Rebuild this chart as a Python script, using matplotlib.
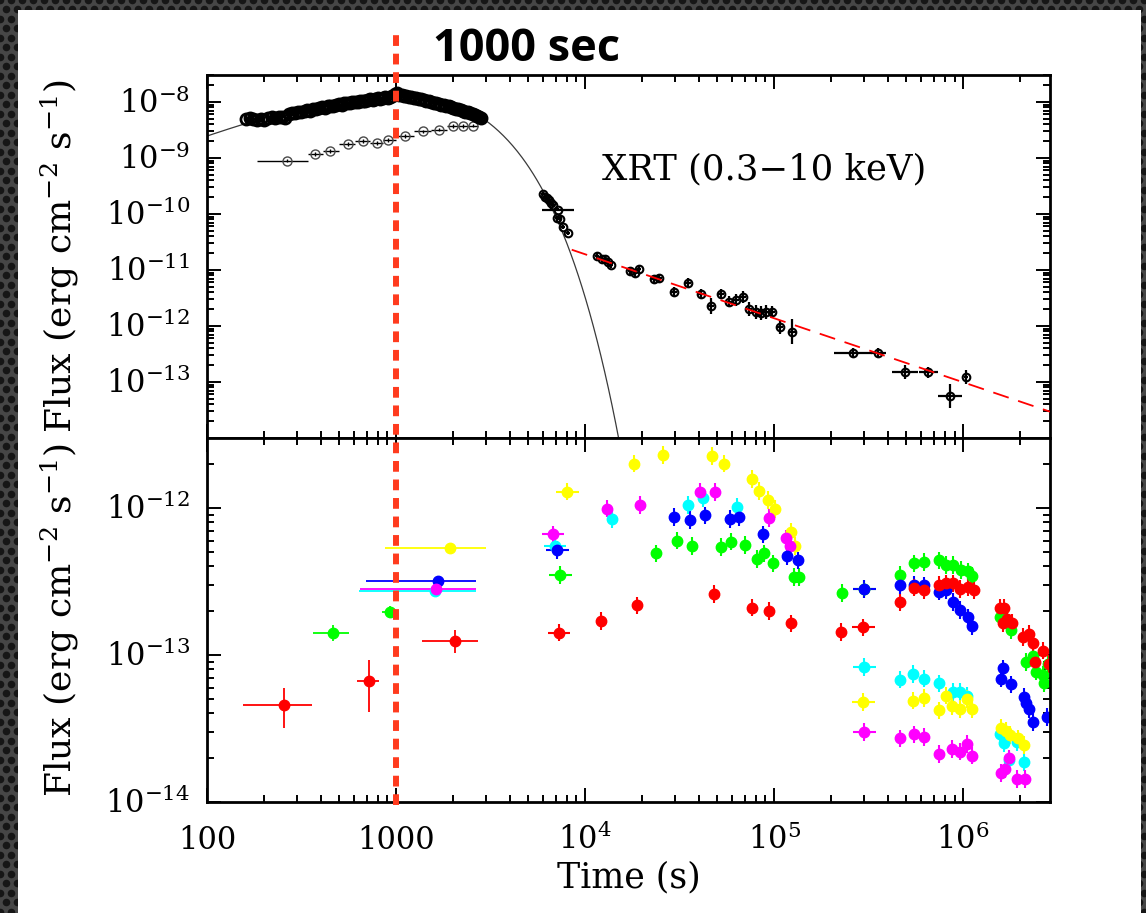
import numpy as np
import matplotlib
matplotlib.use("Agg")
import matplotlib.pyplot as plt
import matplotlib.transforms as mtransforms
from matplotlib.lines import Line2D
from matplotlib.patches import Rectangle
from matplotlib.ticker import FixedLocator, LogLocator, NullFormatter, FuncFormatter

plt.rcParams["font.family"] = ["DejaVu Serif"]
plt.rcParams["mathtext.fontset"] = "dejavuserif"

# ---------------- top panel data (XRT 0.3-10 keV) ----------------
# WT mode, dense
wt_t = [160, 168, 176, 184, 192, 200, 210, 220, 230, 240, 250, 260, 270, 280,
        292, 304, 316, 328, 340, 352, 365, 378, 392, 406, 420, 435, 450, 466,
        482, 498, 515, 532, 550, 568, 587, 606, 626, 646, 667, 688, 710, 732,
        755, 778, 802, 826, 851, 876, 902, 928, 955, 982, 1010, 1040, 1070,
        1100, 1135, 1170, 1205, 1240, 1280, 1320, 1360, 1400, 1445, 1490, 1535,
        1580, 1630, 1680, 1730, 1785, 1840, 1895, 1950, 2010, 2070, 2130, 2195,
        2260, 2330, 2400, 2470, 2540, 2610, 2680, 2750, 2820]
wt_f = [4.9e-9, 5.1e-9, 5.0e-9, 4.8e-9, 5.0e-9, 4.7e-9, 5.2e-9, 5.3e-9, 5.1e-9,
        5.4e-9, 5.3e-9, 5.1e-9, 6.2e-9, 6.4e-9, 6.3e-9, 6.6e-9, 6.5e-9, 6.9e-9,
        7.1e-9, 7.0e-9, 7.5e-9, 7.4e-9, 7.8e-9, 8.0e-9, 7.9e-9, 8.3e-9, 8.6e-9,
        8.5e-9, 8.9e-9, 9.1e-9, 9.0e-9, 9.4e-9, 9.6e-9, 9.5e-9, 9.9e-9, 1.01e-8,
        1.00e-8, 1.04e-8, 1.06e-8, 1.05e-8, 1.09e-8, 1.11e-8, 1.10e-8, 1.14e-8,
        1.16e-8, 1.15e-8, 1.19e-8, 1.21e-8, 1.20e-8, 1.25e-8, 1.30e-8, 1.38e-8,
        1.42e-8, 1.35e-8, 1.33e-8, 1.29e-8, 1.27e-8, 1.24e-8, 1.22e-8, 1.19e-8,
        1.17e-8, 1.13e-8, 1.11e-8, 1.08e-8, 1.06e-8, 1.02e-8, 1.00e-8, 9.7e-9,
        9.5e-9, 9.2e-9, 9.0e-9, 8.8e-9, 8.5e-9, 8.3e-9, 8.1e-9, 7.9e-9, 7.6e-9,
        7.4e-9, 7.2e-9, 7.0e-9, 6.7e-9, 6.5e-9, 6.3e-9, 6.0e-9, 5.8e-9, 5.6e-9,
        5.4e-9, 5.1e-9]

# PC mode, early sparse points
pc_t = [265, 373, 446, 557, 669, 793, 907, 1117, 1390, 1690, 2000, 2260, 2550]
pc_f = [8.9e-10, 1.18e-9, 1.33e-9, 1.78e-9, 2.0e-9, 1.85e-9, 2.1e-9, 2.46e-9,
        3.0e-9, 3.2e-9, 3.7e-9, 3.7e-9, 3.8e-9]
pc_tlo = [184, 342, 410, 500, 610, 730, 850, 1000, 1250, 1540, 1850, 2130, 2400]
pc_thi = [342, 410, 500, 610, 730, 850, 1000, 1250, 1540, 1850, 2130, 2400, 2700]

# late-time points
late_t = [6000, 6150, 6300, 6450, 6600, 6760, 7200, 7100, 7380, 7660, 8100,
          11560, 12300, 12770, 13200, 13700, 17300, 18400, 19300, 23200, 24600,
          29500, 35000, 41100, 46500, 52500, 57800, 63000, 68600, 73800, 80300,
          85300, 90700, 97700, 107000, 124000, 262000, 355000, 493000, 654000,
          851000, 1.04e6]
late_f = [2.3e-10, 2.0e-10, 1.9e-10, 1.75e-10, 1.6e-10, 1.45e-10, 1.2e-10,
          8.5e-11, 8.0e-11, 5.9e-11, 4.6e-11, 1.78e-11, 1.6e-11, 1.6e-11,
          1.38e-11, 1.23e-11, 9.5e-12, 8.8e-12, 1.05e-11, 6.9e-12, 7.1e-12,
          4.1e-12, 5.9e-12, 3.7e-12, 2.3e-12, 3.7e-12, 2.7e-12, 2.9e-12,
          3.3e-12, 2.0e-12, 1.78e-12, 1.7e-12, 1.78e-12, 1.78e-12, 9.6e-13,
          7.9e-13, 3.3e-13, 3.3e-13, 1.5e-13, 1.5e-13, 5.6e-14, 1.22e-13]
late_tdex = [0.01, 0.01, 0.01, 0.01, 0.01, 0.01, 0.085, 0.01, 0.01, 0.01, 0.01,
             0.01, 0.01, 0.01, 0.01, 0.01, 0.01, 0.01, 0.01, 0.015, 0.015,
             0.015, 0.015, 0.015, 0.015, 0.015, 0.015, 0.015, 0.015, 0.015,
             0.015, 0.015, 0.015, 0.015, 0.02, 0.02, 0.1, 0.04, 0.07, 0.05,
             0.065, 0.01]
late_fdex = [0.03, 0.03, 0.03, 0.03, 0.03, 0.03, 0.03, 0.04, 0.04, 0.04, 0.04,
             0.06, 0.06, 0.06, 0.06, 0.06, 0.07, 0.07, 0.07, 0.08, 0.08, 0.09,
             0.08, 0.09, 0.14, 0.09, 0.1, 0.1, 0.1, 0.12, 0.12, 0.12, 0.12,
             0.1, 0.12, 0.22, 0.08, 0.08, 0.12, 0.1, 0.22, 0.12]

# fitted models
cut_norm, cut_t0, cut_index, cut_tc = 1.42e-8, 1000.0, 1.249, 800.0
pl_norm, pl_t0, pl_index, pl_tstart = 2.3e-11, 8500.0, 1.143, 8500.0

# ---------------- bottom panel data (coloured bands) ----------------
early_color = ["red", "red", "#00ff00", "#00ff00", "#ffff00", "blue",
               "cyan", "magenta", "red"]
early_t = [255, 720, 464, 929, 1930, 1670, 1600, 1620, 2050]
early_f = [4.6e-14, 6.7e-14, 1.41e-13, 1.96e-13, 5.3e-13, 3.2e-13, 2.74e-13,
           2.8e-13, 1.24e-13]
early_tlo = [155, 620, 363, 843, 875, 690, 640, 645, 1370]
early_thi = [360, 813, 564, 1026, 2990, 2650, 2640, 2640, 2720]
early_flo = [3.2e-14, 4.1e-14, 1.25e-13, 1.78e-13, 4.95e-13, 3.0e-13, 2.6e-13,
             2.65e-13, 1.03e-13]
early_fhi = [6.0e-14, 9.2e-14, 1.6e-13, 2.15e-13, 5.7e-13, 3.4e-13, 2.9e-13,
             2.95e-13, 1.48e-13]

cyan_t = [6930, 13900, 35200, 41900, 64000, 300000, 465000, 546000, 624000,
          741000, 879000, 964000, 1.05e6, 1.56e6, 1.65e6, 1.75e6, 2.10e6, 1.93e6]
cyan_f = [5.5e-13, 8.4e-13, 1.05e-12, 1.16e-12, 1.02e-12, 8.3e-14, 6.8e-14,
          7.4e-14, 6.9e-14, 6.4e-14, 5.6e-14, 5.6e-14, 5.3e-14, 2.9e-14,
          2.5e-14, 1.93e-14, 1.86e-14, 2.57e-14]

yellow_t = [8040, 18200, 25800, 46900, 54600, 76000, 83200, 92700, 100500,
            122500, 129400, 296000, 546000, 624000, 807000, 741000, 875000,
            964000, 1.05e6, 1.12e6, 1.58e6, 1.68e6, 1.77e6, 1.95e6, 2.10e6]
yellow_f = [1.29e-12, 2.0e-12, 2.29e-12, 2.26e-12, 2.0e-12, 1.57e-12, 1.31e-12,
            1.13e-12, 9.8e-13, 6.9e-13, 5.5e-13, 4.8e-14, 4.9e-14, 5.1e-14,
            5.3e-14, 4.2e-14, 4.5e-14, 4.3e-14, 5.0e-14, 4.3e-14, 3.2e-14,
            3.05e-14, 2.85e-14, 2.71e-14, 2.44e-14]

magenta_t = [6760, 13000, 19600, 40600, 48500, 94400, 116000, 121000, 300000,
             465000, 551000, 624000, 741000, 875000, 964000, 1.05e6, 1.12e6,
             1.58e6, 1.66e6, 1.75e6, 1.93e6, 2.12e6]
magenta_f = [6.6e-13, 9.9e-13, 1.05e-12, 1.29e-12, 1.28e-12, 8.5e-13, 6.2e-13,
             5.5e-13, 2.98e-14, 2.71e-14, 2.88e-14, 2.78e-14, 2.12e-14, 2.3e-14,
             2.2e-14, 2.48e-14, 2.07e-14, 1.57e-14, 1.67e-14, 1.98e-14,
             1.43e-14, 1.43e-14]

green_t = [7400, 23700, 30500, 36900, 52400, 58900, 70000, 81500, 88100, 98400,
           127600, 135000, 228000, 300000, 465000, 551000, 624000, 741000,
           807000, 879000, 970000, 1.06e6, 1.12e6, 1.56e6, 1.79e6, 2.14e6,
           2.33e6, 2.43e6, 2.64e6, 2.67e6, 2.82e6]
green_f = [3.5e-13, 4.9e-13, 6.0e-13, 5.5e-13, 5.4e-13, 5.9e-13, 5.6e-13,
           4.5e-13, 4.9e-13, 4.2e-13, 3.4e-13, 3.4e-13, 2.65e-13, 2.8e-13,
           3.5e-13, 4.2e-13, 4.3e-13, 4.4e-13, 4.1e-13, 4.1e-13, 3.8e-13,
           3.7e-13, 3.45e-13, 1.82e-13, 1.47e-13, 9.0e-14, 9.8e-14, 7.7e-14,
           7.3e-14, 6.4e-14, 8.7e-14]

blue_t = [7140, 29400, 36100, 43000, 58100, 65200, 87500, 117500, 133000,
          300000, 465000, 551000, 619000, 741000, 815000, 879000, 964000,
          1.06e6, 1.12e6, 1.58e6, 1.63e6, 1.79e6, 2.10e6, 2.16e6, 2.23e6,
          2.33e6, 2.76e6]
blue_f = [5.2e-13, 8.7e-13, 8.3e-13, 8.9e-13, 8.4e-13, 8.7e-13, 6.6e-13,
          4.7e-13, 4.4e-13, 2.8e-13, 2.97e-13, 3.0e-13, 2.97e-13, 2.7e-13,
          2.75e-13, 2.3e-13, 2.02e-13, 1.8e-13, 1.58e-13, 6.9e-14, 8.1e-14,
          6.3e-14, 5.2e-14, 4.7e-14, 4.3e-14, 3.5e-14, 3.8e-14]

red_t = [7290, 12200, 18900, 47900, 76700, 93500, 123000, 225000, 296000,
         465000, 551000, 619000, 741000, 807000, 879000, 964000, 1.06e6, 1.14e6,
         1.56e6, 1.65e6, 1.63e6, 1.70e6, 1.81e6, 2.07e6, 2.23e6, 2.35e6,
         2.41e6, 2.64e6, 2.84e6]
red_f = [1.42e-13, 1.7e-13, 2.17e-13, 2.6e-13, 2.1e-13, 2.0e-13, 1.64e-13,
         1.43e-13, 1.54e-13, 2.28e-13, 2.87e-13, 2.77e-13, 3.0e-13, 3.07e-13,
         3.07e-13, 2.8e-13, 2.9e-13, 2.77e-13, 2.1e-13, 2.1e-13, 1.64e-13,
         1.77e-13, 1.66e-13, 1.33e-13, 1.39e-13, 1.2e-13, 9.0e-14, 1.07e-13,
         8.7e-14]

bands = [("cyan", cyan_t, cyan_f), ("#ffff00", yellow_t, yellow_f),
         ("magenta", magenta_t, magenta_f), ("#00ff00", green_t, green_f),
         ("blue", blue_t, blue_f), ("red", red_t, red_f)]


def dex_err(v, d):
    v = np.asarray(v, dtype=float)
    d = np.asarray(d, dtype=float)
    return [v - v / 10 ** d, v * 10 ** d - v]


# ---------------- figure ----------------
fig = plt.figure(figsize=(11.46, 9.13), dpi=100, facecolor="#464646")

# textured backdrop and white sheet
bg = fig.add_axes([0, 0, 1, 1], zorder=-5)
bg.set_xlim(0, 1146)
bg.set_ylim(913, 0)
bg.axis("off")
gx, gy = np.meshgrid(np.arange(0, 1160, 11.0), np.arange(0, 925, 9.5))
gx[1::2] += 5.5
bg.scatter(gx.ravel(), gy.ravel(), s=30, c="#161616", lw=0)
bg.add_patch(Rectangle((18, 10), 1123, 903, fc="white", ec="none", zorder=3))

ax1 = fig.add_axes([0.18063, 0.52026, 0.73560, 0.39759])
ax2 = fig.add_axes([0.18063, 0.12158, 0.73560, 0.39869], sharex=ax1)

xmax = 2.88e6

# model curve
mt = np.logspace(2, np.log10(xmax), 900)
mf = cut_norm * (mt / cut_t0) ** cut_index * np.exp(-(mt - cut_t0) / cut_tc)
ax1.plot(mt, mf, color="#3a3a3a", lw=0.9, zorder=1)

# power-law decay
pt = np.array([pl_tstart, xmax])
ax1.plot(pt, pl_norm * (pt / pl_t0) ** (-pl_index), color="red", lw=1.3,
         linestyle=(0, (9, 5.5)), zorder=4)

# PC early points
pc_t_a = np.array(pc_t)
ax1.errorbar(pc_t, pc_f, xerr=[pc_t_a - pc_tlo, np.array(pc_thi) - pc_t_a],
             yerr=dex_err(pc_f, 0.03), fmt="o", ms=6.5, mfc="none", mec="#4a4a4a",
             mew=1.0, ecolor="black", elinewidth=1.0, capsize=0, zorder=2)

# WT dense points
ax1.errorbar(wt_t, wt_f, yerr=dex_err(wt_f, 0.06), xerr=dex_err(wt_t, 0.008),
             fmt="o", ms=8, mfc="none", mec="black", mew=2.0, ecolor="black",
             elinewidth=1.5, capsize=0, zorder=3)

# late points
ax1.errorbar(late_t, late_f, xerr=dex_err(late_t, late_tdex),
             yerr=dex_err(late_f, late_fdex), fmt="o", ms=5.5, mfc="none",
             mec="black", mew=1.5, ecolor="black", elinewidth=1.6, capsize=0,
             zorder=3)

# bottom panel early wide bins
for c, t, f, tlo, thi, flo, fhi in zip(early_color, early_t, early_f, early_tlo,
                                       early_thi, early_flo, early_fhi):
    ax2.errorbar([t], [f], xerr=[[t - tlo], [thi - t]], yerr=[[f - flo], [fhi - f]],
                 fmt="o", ms=7.5, color=c, mec=c, elinewidth=1.3, capsize=0)

for c, t, f in bands:
    t = np.asarray(t, dtype=float)
    xdex = np.where((t < 9000) | ((t > 2.4e5) & (t < 3.2e5)), 0.06, 0.02)
    ax2.errorbar(t, f, xerr=dex_err(t, xdex), yerr=dex_err(f, 0.06), fmt="o",
                 ms=7.5, color=c, mec=c, elinewidth=1.5, capsize=0)


# ---------------- axes styling ----------------
def xfmt(v, pos):
    e = int(round(np.log10(v)))
    if e == 2:
        return "100"
    if e == 3:
        return "1000"
    return r"$10^{%d}$" % e


def yfmt(v, pos):
    return r"$10^{%d}$" % int(round(np.log10(v)))


for ax in (ax1, ax2):
    ax.set_xscale("log")
    ax.set_yscale("log")
    ax.set_xlim(100, xmax)
    for s in ax.spines.values():
        s.set_linewidth(2.0)
    ax.xaxis.set_major_locator(FixedLocator([1e2, 1e3, 1e4, 1e5, 1e6]))
    ax.xaxis.set_minor_locator(LogLocator(base=10, subs=np.arange(2, 10), numticks=50))
    ax.yaxis.set_minor_locator(LogLocator(base=10, subs=np.arange(2, 10), numticks=50))
    ax.yaxis.set_minor_formatter(NullFormatter())
    ax.xaxis.set_minor_formatter(NullFormatter())
    ax.tick_params(which="both", direction="in", top=True, right=True,
                   width=1.4, labelsize=22)
    ax.tick_params(which="major", length=10)
    ax.tick_params(which="minor", length=5)
    ax.set_ylabel(r"Flux (erg cm$^{-2}$ s$^{-1}$)", fontsize=26)
    ax.yaxis.set_label_coords(-0.150, 0.5)

ax1.set_ylim(1e-14, 3.03e-8)
ax2.set_ylim(1e-14, 2.99e-12)
ax1.yaxis.set_major_locator(FixedLocator([1e-13, 1e-12, 1e-11, 1e-10, 1e-9, 1e-8]))
ax2.yaxis.set_major_locator(FixedLocator([1e-14, 1e-13, 1e-12]))
ax1.yaxis.set_major_formatter(FuncFormatter(yfmt))
ax2.yaxis.set_major_formatter(FuncFormatter(yfmt))
ax2.xaxis.set_major_formatter(FuncFormatter(xfmt))
ax1.tick_params(axis="x", labelbottom=False)
ax1.tick_params(axis="y", pad=12)
ax2.tick_params(axis="y", pad=12)
ax2.tick_params(axis="x", pad=34)

fig.canvas.draw()
yoff = mtransforms.ScaledTranslation(0, -11.5 / 100.0, fig.dpi_scale_trans)
for ax in (ax1, ax2):
    for tk in ax.yaxis.get_major_ticks():
        tk.label1.set_va("baseline")
        tk.label1.set_transform(tk.label1.get_transform() + yoff)
for tk in ax2.xaxis.get_major_ticks():
    tk.label1.set_va("baseline")

ax2.set_xlabel("Time (s)", fontsize=25)
ax2.xaxis.set_label_coords(0.5, -0.16)

ax1.text(0.4686, 0.7135, "XRT (0.3\u221210 keV)", transform=ax1.transAxes,
         fontsize=25.5, va="baseline", ha="left")

fig.text(0.378, 0.9332, "1000 sec", family=["Open Sans", "DejaVu Sans"],
         weight="bold", fontsize=32.5, va="baseline", ha="left")

# vertical marker at 1000 s across both panels
vtrans = mtransforms.blended_transform_factory(ax1.transData, fig.transFigure)
fig.add_artist(Line2D([1000, 1000], [0.1183, 0.967], transform=vtrans,
                      color="#ff3b1e", lw=4.3, linestyle=(0, (1.8, 1.3)),
                      dash_capstyle="butt", zorder=10))

fig.savefig("out.png", dpi=100, facecolor=fig.get_facecolor())
